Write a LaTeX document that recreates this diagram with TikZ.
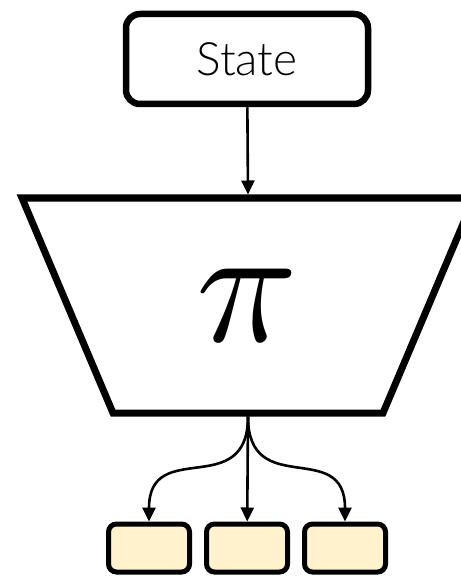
\documentclass[tikz,border=0pt]{standalone}
\usepackage{fontspec}
\setsansfont{Lato Light}
\usepackage{xcolor}
\usetikzlibrary{arrows.meta, positioning}

\definecolor{actfill}{HTML}{FFF2CC}

\begin{document}
\begin{tikzpicture}[x=1pt, y=1pt, node distance=12pt,
    statebox/.style={rectangle, rounded corners=14pt, draw=black, line width=6.5pt,
                     minimum width=242pt, minimum height=90pt,
                     font=\sffamily\fontsize{46}{46}\selectfont},
    actbox/.style={rectangle, rounded corners=8pt, draw=black, line width=5pt,
                   fill=actfill, minimum width=81pt, minimum height=48pt},
    arrow/.style={-{Triangle[length=14pt, width=13pt]}, line width=2.6pt}
]
\useasboundingbox (0,0) rectangle (460,-577);

% policy network
\draw [line width=7pt, line join=miter] (22,-198) -- (474,-198) -- (383,-413) -- (113,-413) -- cycle;
\coordinate (poltop) at (248,-194.5);
\coordinate (polbot) at (248,-416.5);
\node (pi) at (247,-305) {\scalebox{16.8}{$\pi$}};

\node (state) [statebox] at (247,-59) {State};

\node (act2) [actbox] at (247,-548) {};
\node (act1) [actbox, left=of act2]  {};
\node (act3) [actbox, right=of act2] {};

\draw [arrow] (state) -- (poltop);
\draw [arrow] (polbot) -- (act2);
\draw [arrow] (polbot) to[out=-90, in=90, looseness=1.5] (act1);
\draw [arrow] (polbot) to[out=-90, in=90, looseness=1.5] (act3);
\end{tikzpicture}
\end{document}
